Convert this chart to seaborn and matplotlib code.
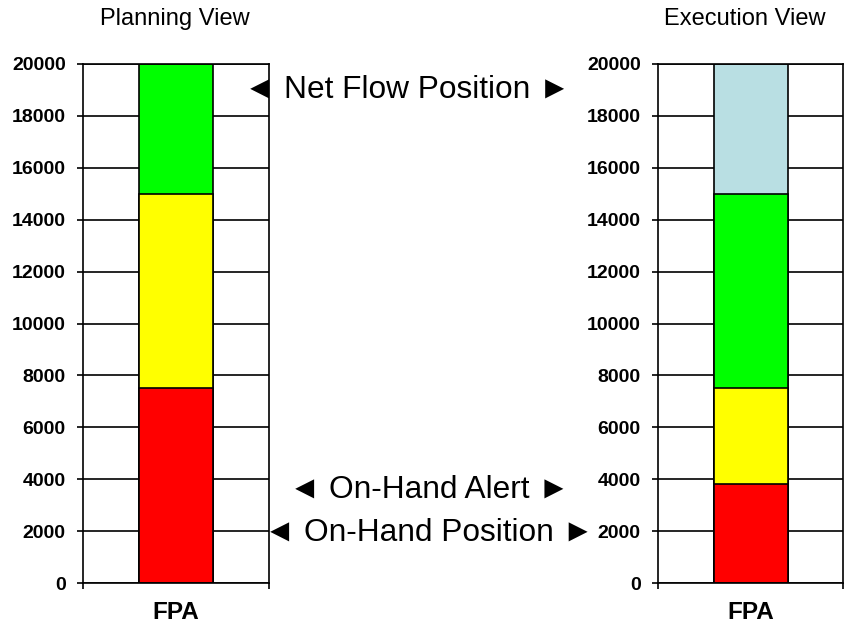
import numpy as np
import pandas as pd
import seaborn as sns
import matplotlib.pyplot as plt
from matplotlib.ticker import FixedLocator

# buffer zones, bottom to top (segment sizes)
category = ["FPA"]
planning_zones = ["red", "yellow", "green"]
planning_sizes = [7500, 7500, 5000]
planning_colors = ["#FF0000", "#FFFF00", "#00FF00"]

execution_zones = ["red", "yellow", "green", "blue"]
execution_sizes = [3800, 3700, 7500, 5000]
execution_colors = ["#FF0000", "#FFFF00", "#00FF00", "#B9DFE3"]

yticks = list(range(0, 20001, 2000))

sns.set_style("white")
plt.rcParams['font.family'] = ['Liberation Sans', 'DejaVu Sans']
plt.rcParams['text.color'] = 'black'
plt.rcParams['xtick.color'] = 'black'
plt.rcParams['ytick.color'] = 'black'


def stacked_bar(ax, sizes, colors):
    tops = np.cumsum(sizes)
    # draw tallest first so each lower zone sits on top of it
    for top, col in zip(tops[::-1], colors[::-1]):
        df = pd.DataFrame({"cat": category, "val": [top]})
        sns.barplot(data=df, x="cat", y="val", color=col, saturation=1,
                    width=0.4, edgecolor="black", linewidth=1.2, ax=ax)
    ax.set_xlim(-0.5, 0.5)
    ax.set_ylim(0, 20000)
    ax.set_yticks(yticks)
    ax.set_xlabel("")
    ax.set_ylabel("")
    ax.set_axisbelow(True)
    ax.yaxis.grid(True, color="black", linewidth=1.2)
    for s in ax.spines.values():
        s.set_color("black")
        s.set_linewidth(1.2)
    ax.tick_params(axis="y", direction="out", length=4.5, width=1.2,
                   pad=8, labelsize=14, left=True, colors="black")
    ax.tick_params(axis="x", which="major", length=0, pad=13, labelsize=17.5,
                   colors="black")
    ax.xaxis.set_minor_locator(FixedLocator([-0.5, 0.5]))
    ax.tick_params(axis="x", which="minor", direction="out", length=4.5,
                   width=1.2, bottom=True)
    for lab in ax.get_yticklabels() + ax.get_xticklabels():
        lab.set_fontweight("bold")


fig = plt.figure(figsize=(8.44, 6.28), dpi=100)
ax1 = fig.add_axes([83 / 844, 1 - 583 / 628, 186 / 844, 519 / 628])
ax2 = fig.add_axes([658 / 844, 1 - 583 / 628, 185 / 844, 519 / 628])

stacked_bar(ax1, planning_sizes, planning_colors)
stacked_bar(ax2, execution_sizes, execution_colors)

fig.text(175 / 844, 1 - 19 / 628, "Planning View", fontsize=17,
         ha="center", va="center")
fig.text(745 / 844, 1 - 19 / 628, "Execution View", fontsize=17,
         ha="center", va="center")

fs = 22.8
fig.text(407 / 844, 1 - 90 / 628, "\u25c4 Net Flow Position \u25ba", fontsize=fs,
         ha="center", va="center")
fig.text(429 / 844, 1 - 490 / 628, "\u25c4 On-Hand Alert \u25ba", fontsize=fs,
         ha="center", va="center")
fig.text(428.5 / 844, 1 - 533 / 628, "\u25c4 On-Hand Position \u25ba", fontsize=fs,
         ha="center", va="center")

fig.savefig("out.png", dpi=100)
